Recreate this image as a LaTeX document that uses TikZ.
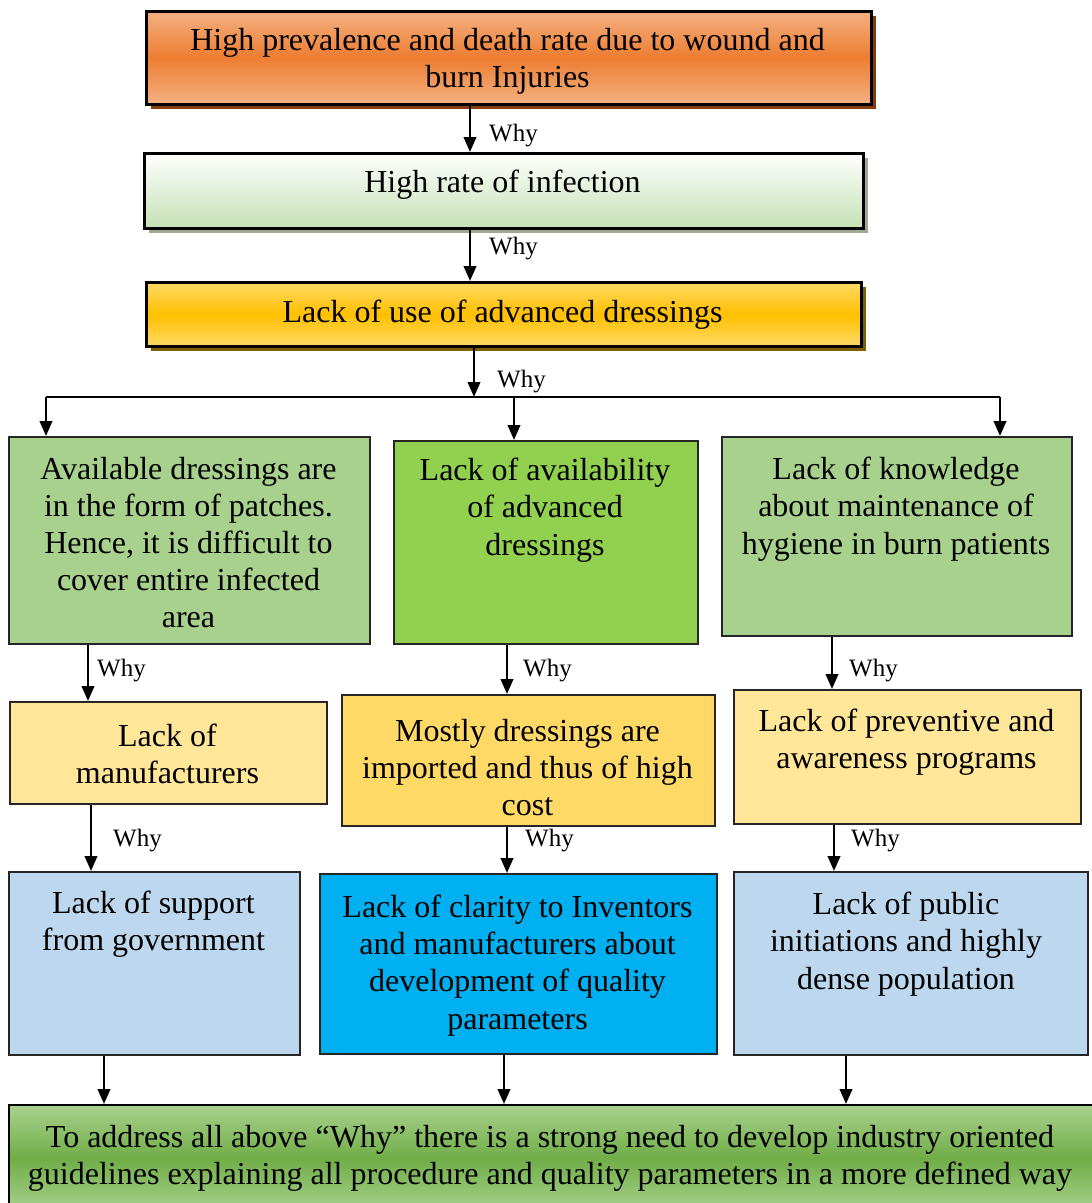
\documentclass[tikz,border=0pt]{standalone}
\usepackage{fontspec}
\setmainfont{Liberation Serif}
\usetikzlibrary{arrows.meta,shadows}

\definecolor{orangeL}{HTML}{F4B183}
\definecolor{orangeM}{HTML}{ED7D31}
\definecolor{orangeS}{HTML}{843C0C}
\definecolor{mintL}{HTML}{C5E0B4}
\definecolor{mintS}{HTML}{9EA893}
\definecolor{goldL}{HTML}{FFD966}
\definecolor{goldM}{HTML}{FFC000}
\definecolor{goldS}{HTML}{7F6000}
\definecolor{sage}{HTML}{A9D18E}
\definecolor{lime}{HTML}{92D050}
\definecolor{cream}{HTML}{FFE699}
\definecolor{butter}{HTML}{FFD966}
\definecolor{skyL}{HTML}{BDD7EE}
\definecolor{cyanB}{HTML}{00B0F0}
\definecolor{grassM}{HTML}{70AD47}
\definecolor{edge}{HTML}{262626}

\tikzset{
  x=1pt, y=-1pt,
  headbox/.style={draw=black, line width=2.6pt, inner sep=0pt, anchor=north west},
  cellbox/.style={draw=edge, line width=1.6pt, inner sep=0pt, anchor=north west},
  txt/.style={align=center, inner sep=0pt, yshift=-3pt, font=\fontsize{32}{37.2}\selectfont},
  whylbl/.style={anchor=west, inner sep=0pt, yshift=-3pt, font=\fontsize{25}{30}\selectfont},
  arr/.style={line width=2.4pt, -{Triangle[length=15pt,width=12.5pt]}},
  bus/.style={line width=2.4pt},
  shade3/.style n args={3}{top color=#1, bottom color=#3, middle color=#2},
  shadowed/.style={drop shadow={shadow xshift=5pt, shadow yshift=-5pt, fill=#1, opacity=1}},
}

\begin{document}
\begin{tikzpicture}
\useasboundingbox (0,0) rectangle (1092,1203);

% ---- chain of causes at the top ----
\node[headbox, shade3={orangeL}{orangeM}{orangeL}, shadowed=orangeS,
      minimum width=725pt, minimum height=93pt] (T) at (145,10) {};
\node[txt] (Tt) at (507.5,58) {High prevalence and death rate due to wound and\\burn Injuries};

\node[headbox, top color=white, bottom color=mintL, shadowed=mintS,
      minimum width=719pt, minimum height=75pt] (I) at (143,152) {};
\node[txt] (It) at (502.5,182) {High rate of infection};

\node[headbox, shade3={goldL}{goldM}{goldL}, shadowed=goldS,
      minimum width=715pt, minimum height=64pt] (A) at (145,281) {};
\node[txt] (At) at (502.5,312) {Lack of use of advanced dressings};

% ---- first row of branches ----
\node[cellbox, fill=sage, minimum width=361pt, minimum height=207pt] (R1a) at (8,436) {};
\node[txt] (R1at) at (188.5,539.5) {Available dressings are\\in the form of patches.\\Hence, it is difficult to\\cover entire infected\\area};

\node[cellbox, fill=lime, minimum width=304pt, minimum height=203pt] (R1b) at (393,440) {};
\node[txt] (R1bt) at (545,507) {Lack of availability\\of advanced\\dressings};

\node[cellbox, fill=sage, minimum width=350pt, minimum height=199pt] (R1c) at (721,436) {};
\node[txt] (R1ct) at (896,506) {Lack of knowledge\\about maintenance of\\hygiene in burn patients};

% ---- second row ----
\node[cellbox, fill=cream, minimum width=317pt, minimum height=102pt] (R2a) at (9,701) {};
\node[txt] (R2at) at (167.5,751) {Lack of\\manufacturers};

\node[cellbox, fill=butter, minimum width=373pt, minimum height=131pt] (R2b) at (341,694) {};
\node[txt] (R2bt) at (527.5,764.5) {Mostly dressings are\\imported and thus of high\\cost};

\node[cellbox, fill=cream, minimum width=347pt, minimum height=134pt] (R2c) at (733,689) {};
\node[txt] (R2ct) at (906.5,739.5) {Lack of preventive and\\awareness programs};

% ---- third row ----
\node[cellbox, fill=skyL, minimum width=291pt, minimum height=183pt] (R3a) at (8,871) {};
\node[txt] (R3at) at (153.5,921) {Lack of support\\from government};

\node[cellbox, fill=cyanB, minimum width=397pt, minimum height=180pt] (R3b) at (319,873) {};
\node[txt] (R3bt) at (517.5,962.5) {Lack of clarity to Inventors\\and manufacturers about\\development of quality\\parameters};

\node[cellbox, fill=skyL, minimum width=354pt, minimum height=183pt] (R3c) at (733,871) {};
\node[txt] (R3ct) at (906,941) {Lack of public\\initiations and highly\\dense population};

% ---- conclusion ----
\node[cellbox, draw=black, line width=2.2pt, shade3={sage}{grassM}{sage},
      minimum width=1090pt, minimum height=106pt] (B) at (8,1104) {};
\node[txt] (Bt) at (550,1155.5) {To address all above \textquotedblleft Why\textquotedblright{} there is a strong need to develop industry oriented\\guidelines explaining all procedure and quality parameters in a more defined way};

% ---- guide coordinates for the connectors ----
\coordinate (g1) at (470,0);
\coordinate (gA) at (474,0);
\coordinate (busL) at (46,397);
\coordinate (busR) at (1000,397);
\coordinate (busA) at (474,397);
\coordinate (busC) at (514,397);
\coordinate (ga) at (88,0);
\coordinate (gb) at (507,0);
\coordinate (gc) at (832,0);
\coordinate (ha) at (91,0);
\coordinate (hb) at (507,0);
\coordinate (hc) at (834,0);
\coordinate (ka) at (104,0);
\coordinate (kb) at (504,0);
\coordinate (kc) at (846,0);

% ---- connectors ----
\draw[arr] (T.south -| g1) -- (I.north -| g1);
\node[whylbl] (w1) at (489,133) {Why};
\draw[arr] (I.south -| g1) -- (A.north -| g1);
\node[whylbl] (w2) at (489,246) {Why};
\draw[arr] (A.south -| gA) -- (busA);
\node[whylbl] (w3) at (497,379) {Why};

\draw[bus] (busL) -- (busR);
\draw[arr] (busL) -- (R1a.north -| busL);
\draw[arr] (busC) -- (R1b.north -| busC);
\draw[arr] (busR) -- (R1c.north -| busR);

\draw[arr] (R1a.south -| ga) -- (R2a.north -| ga);
\node[whylbl] (w4) at (97,668) {Why};
\draw[arr] (R1b.south -| gb) -- (R2b.north -| gb);
\node[whylbl] (w5) at (523,668) {Why};
\draw[arr] (R1c.south -| gc) -- (R2c.north -| gc);
\node[whylbl] (w6) at (849,668) {Why};

\draw[arr] (R2a.south -| ha) -- (R3a.north -| ha);
\node[whylbl] (w7) at (113,838) {Why};
\draw[arr] (R2b.south -| hb) -- (R3b.north -| hb);
\node[whylbl] (w8) at (525,838) {Why};
\draw[arr] (R2c.south -| hc) -- (R3c.north -| hc);
\node[whylbl] (w9) at (851,838) {Why};

\draw[arr] (R3a.south -| ka) -- (B.north -| ka);
\draw[arr] (R3b.south -| kb) -- (B.north -| kb);
\draw[arr] (R3c.south -| kc) -- (B.north -| kc);
\end{tikzpicture}
\end{document}
